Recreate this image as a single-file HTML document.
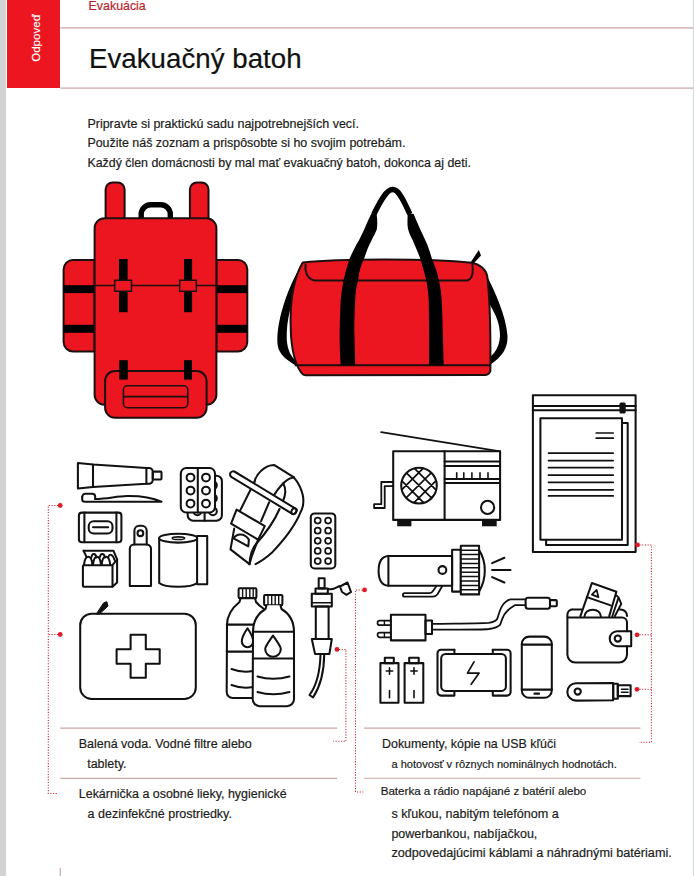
<!DOCTYPE html>
<html><head><meta charset="utf-8">
<style>
html,body{margin:0;padding:0;}
body{width:694px;height:876px;position:relative;overflow:hidden;background:#fff;font-family:"Liberation Sans",sans-serif;color:#1d1d1b;}
.t{position:absolute;white-space:nowrap;line-height:1;-webkit-text-stroke:0.2px currentColor;}
#strip{position:absolute;left:0;top:0;width:6.4px;height:876px;background:#d1d3d4;}
#rstrip{position:absolute;left:693px;top:0;width:1px;height:876px;background:#d6d8d9;}
#redbox{position:absolute;left:7.2px;top:0;width:53.3px;height:87.5px;background:#ec1620;}
#odp{position:absolute;left:36.1px;top:38px;transform:translate(-50%,-50%) rotate(-90deg);color:#fff;font-size:11.6px;-webkit-text-stroke:0.15px #fff;line-height:1;white-space:nowrap;}
svg{position:absolute;left:0;top:0;}
</style></head>
<body>
<div id="strip"></div>
<div id="rstrip"></div>
<div id="redbox"></div>
<div id="odp">Odpoveď</div>
<div class="t" style="left:88.6px;top:-0.1px;font-size:12.4px;color:#b81f2c;">Evakuácia</div>
<div class="t" style="left:88.5px;top:45.2px;font-size:27.3px;color:#111;transform:scaleX(1.015);transform-origin:0 0;">Evakuačný batoh</div>
<div class="t" style="left:87.4px;top:118.2px;font-size:12.5px;">Pripravte si praktickú sadu najpotrebnejších vecí.</div>
<div class="t" style="left:87.4px;top:137.3px;font-size:12.45px;">Použite náš zoznam a prispôsobte si ho svojim potrebám.</div>
<div class="t" style="left:87.4px;top:156.7px;font-size:12.4px;">Každý člen domácnosti by mal mať evakuačný batoh, dokonca aj deti.</div>

<div class="t" style="left:78.7px;top:737.7px;font-size:12.5px;">Balená voda. Vodné filtre alebo</div>
<div class="t" style="left:87.2px;top:757.7px;font-size:12.5px;">tablety.</div>
<div class="t" style="left:78.8px;top:787.9px;font-size:12.45px;">Lekárnička a osobné lieky, hygienické</div>
<div class="t" style="left:87.6px;top:807.7px;font-size:12.5px;">a dezinfekčné prostriedky.</div>

<div class="t" style="left:382.0px;top:738.1px;font-size:12.43px;">Dokumenty, kópie na USB kľúči</div>
<div class="t" style="left:391.5px;top:759.1px;font-size:11.05px;">a hotovosť v rôznych nominálnych hodnotách.</div>
<div class="t" style="left:380.7px;top:784.6px;font-size:11.6px;">Baterka a rádio napájané z batérií alebo</div>
<div class="t" style="left:391.4px;top:807.7px;font-size:12.6px;">s kľukou, nabitým telefónom a</div>
<div class="t" style="left:391.4px;top:827.6px;font-size:12.5px;">powerbankou, nabíjačkou,</div>
<div class="t" style="left:391.4px;top:847.3px;font-size:12.65px;">zodpovedajúcimi káblami a náhradnými batériami.</div>

<svg width="694" height="876" viewBox="0 0 694 876">
<!-- header rules -->
<g stroke="#d9bec1" stroke-width="1.6" fill="none">
<line x1="60.5" y1="27.9" x2="693" y2="27.9"/>
<line x1="60.5" y1="88.1" x2="693" y2="88.1"/>
</g>
<!-- bottom rules -->
<g stroke="#c8a8aa" stroke-width="1.15" fill="none">
<line x1="60.3" y1="728.05" x2="337.1" y2="728.05"/>
<line x1="60.3" y1="778.4" x2="337.1" y2="778.4"/>
<line x1="364" y1="728.05" x2="640.4" y2="728.05"/>
<line x1="364" y1="778.2" x2="640.4" y2="778.2"/>
<line x1="60.3" y1="868" x2="60.3" y2="876"/>
</g>
<!-- BACKPACK -->
<g stroke="#1c0f0f" stroke-width="2" stroke-linejoin="round">
<path fill="#ec1620" d="M94.6,260 H73 A9.4,9.4 0 0 0 63.6,269.4 V342 A9.5,9.5 0 0 0 73.1,351.5 H94.6 Z"/>
<path fill="#ec1620" d="M216.4,260 H238 A9.3,9.3 0 0 1 247.3,269.3 V342 A9.5,9.5 0 0 1 237.8,351.5 H216.4 Z"/>
<rect x="63.6" y="285.2" width="31" height="7.9" fill="#000" stroke="none"/>
<rect x="63.6" y="324.8" width="31" height="8" fill="#000" stroke="none"/>
<rect x="216.4" y="285.2" width="30.9" height="7.9" fill="#000" stroke="none"/>
<rect x="216.4" y="324.8" width="30.9" height="8" fill="#000" stroke="none"/>
<path fill="#ec1620" d="M105.6,222 V189.5 A7,7 0 0 1 112.6,182.5 H117.6 A7,7 0 0 1 124.6,189.5 V222 Z"/>
<path fill="#ec1620" d="M189.9,222 V189.5 A7,7 0 0 1 196.9,182.5 H201.5 A7,7 0 0 1 208.5,189.5 V222 Z"/>
<path fill="none" stroke="#000" stroke-width="5.4" d="M141.2,220 V214 A9.5,9.5 0 0 1 150.7,204.8 H160.8 A9.5,9.5 0 0 1 170.3,214 V220"/>
<rect x="94.6" y="218.2" width="121.8" height="186.6" rx="10" fill="#ec1620"/>
<line x1="94.6" y1="285.6" x2="216.4" y2="285.6" stroke-width="1.5"/>
<rect x="119" y="259" width="8.6" height="53.2" fill="#000" stroke="none"/>
<rect x="184" y="259" width="8.1" height="53.2" fill="#000" stroke="none"/>
<rect x="114.7" y="280.3" width="16.8" height="11" fill="#ec1620" stroke-width="1.5"/>
<rect x="179.7" y="280.3" width="16.6" height="11" fill="#ec1620" stroke-width="1.5"/>
<rect x="105.1" y="371" width="101.5" height="46.8" rx="10" fill="#ec1620"/>
<rect x="119.3" y="360.2" width="8.5" height="19.4" fill="#000" stroke="none"/>
<rect x="184" y="360.2" width="8" height="19.4" fill="#000" stroke="none"/>
<rect x="123.4" y="385.8" width="64.4" height="21.9" rx="4" fill="#ec1620" stroke-width="1.6"/>
<line x1="123.4" y1="396.6" x2="187.8" y2="396.6" stroke-width="1.6"/>
</g>
<!-- DUFFEL -->
<g stroke="#1c0f0f" stroke-width="2" stroke-linejoin="round">
<path fill="#000" stroke="none" d="M302.5,263 C295,275 287,292 281.5,312 C278,325 276.5,338 277.8,346 C279.5,355 287,360 296.5,366 L297,362 C291,357 287.5,350 286.8,340 C286.3,330 287.5,320 290.5,308 C292,298 296,285 302.5,263 Z"/>
<path fill="#000" stroke="none" d="M486,274 C495,292 506,315 507.5,336 C508,348 502,357 490.5,364.5 L490.5,356.5 C496,352 499.5,345 500,336 C500,324 496,315 490,305 Z"/>
<path fill="#ec1620" d="M302.7,262.6 C340,258.5 430,258.5 471.6,262.7 C480,264 486,270 487.2,276 C489.5,295 490.6,330 490.4,364 L490.4,369 A5,5 0 0 1 485.4,375 L306,375.2 A5,5 0 0 1 301.5,373 C297,367 292.5,355 291,336 C290,318 290.5,300 294,286 C296,277 299,269 302.7,262.6 Z"/>
<path fill="none" d="M305.6,263.6 C304.5,270 306.5,279.5 315,280.4 L466,280.6 C472,280 473.5,274 472.4,264"/>
<line x1="294.8" y1="365.3" x2="490.4" y2="365.3"/>
<path fill="#000" stroke="none" d="M470.5,262.5 L478.8,250 L481,255.5 L473.5,263.5 Z"/>
<path fill="none" stroke="#000" stroke-width="5.5" d="M374,214 C379.5,203 386,189.6 392.7,189.6 C399.5,189.6 404.5,203 409.8,214"/>
<path fill="#000" stroke="none" d="M371.7,213 L376.6,214 C377.5,220 377.5,226 376.6,230 C375,234 373,237 371.7,240 C368,247 366,253 364,259 C360.5,266 359,272 358.2,280 C356,288 355.3,294 355.2,300 C354.5,312 354.3,322 354.3,330 L355.2,365.3 L340.7,365.3 C339.8,350 339.5,340 339.7,330 C340,318 340.3,308 340.7,300 C341.5,292 342.5,286 343.6,280 C345.5,272 347.5,265 349.4,259 C352.5,252 355.5,246 359.1,240 C361,236 362.5,233 364,230 C366.5,224 369,218 371.7,213 Z"/>
<path fill="#000" stroke="none" d="M407.8,213 L413.6,214 C417,222 421,231 425.2,240 C428,246 430,252 432,259 C435,266 437.5,273 438.8,280 C440.5,287 441.3,294 441.7,300 C442.3,312 442.6,322 442.7,330 L443.7,365.3 L429.1,365.3 L429.1,330 C429,318 428.9,308 428.7,300 C428.3,293 427.5,286 426.2,280 C424.5,273 422.5,266 420.4,259 C418,252 415,246 412.6,240 C410,235 407.6,230 407.5,225 C407.4,220 407.6,216 407.8,213 Z"/>
</g>

<!-- LEFT ITEMS -->
<g stroke="#111" stroke-width="2.05" fill="none" stroke-linejoin="round" stroke-linecap="round">
<!-- toothpaste -->
<path d="M77.9,463 L93,464.5 L146.4,468 L146.4,483.8 L93,487 L77.9,488.4 Z"/>
<line x1="93" y1="464.5" x2="93" y2="487"/>
<path d="M146.4,468 H149 A3.5,3.5 0 0 1 152.7,471.5 V480.3 A3.5,3.5 0 0 1 149,483.8 H146.4"/>
<rect x="152.8" y="471.6" width="8.7" height="7.9" rx="1"/>
<!-- toothbrush -->
<path d="M82.2,497 A3.3,3.3 0 0 1 85.5,493.7 H92.2 A3,3 0 0 1 95.2,496.7 V499"/>
<path d="M82.2,497 V499.5 Q82.2,501.8 85,501.8 L161.5,501.8 C152,497.5 140,495.8 127,496 C116,496.3 108,498.7 95.2,499"/>
<!-- wipes -->
<rect x="78.9" y="512.6" width="42.5" height="29.6" rx="3"/>
<line x1="84.4" y1="512.6" x2="84.4" y2="542.2"/>
<line x1="116.4" y1="512.6" x2="116.4" y2="542.2"/>
<rect x="88.7" y="521.3" width="23.8" height="12.2" rx="5"/>
<line x1="93" y1="527.2" x2="108.2" y2="527.2"/>
<!-- matches -->
<path d="M83.6,550.8 H113.5 L117.1,559.4 V582.5 L112.5,586.8"/>
<path d="M83.6,550.8 L86.5,556.9"/>
<path d="M91.6,557 C92,553 95.5,553 96.5,557.5 M100,557 C100.5,553 104,553 105,557.5 M108.3,557.5 C109,553 113,554 114.5,560" stroke-width="1.9"/>
<path d="M84,565 C84.5,560 86,556.8 88.3,556.8 C90.6,556.8 92,560 92.4,565 M93,565 C93.5,560 95,556.8 97,556.8 C99,556.8 100.5,560 101,565 M101.7,565 C102,560 103.8,556.8 106,556.8 C108.2,556.8 109.7,560 110.3,565"/>
<path d="M112.5,565.2 L117.1,559.4"/>
<rect x="82.9" y="565.2" width="29.6" height="21.6" rx="1"/>
<!-- spray bottle -->
<path d="M134.4,544.5 V530.8 A5,5 0 0 1 139.4,525.8 H141.7 A5,5 0 0 1 146.7,530.8 V544.5"/>
<circle cx="140.4" cy="533.2" r="2.9"/>
<path d="M129.8,585.9 V548.7 A4.2,4.2 0 0 1 134,544.5 H146.8 A4.2,4.2 0 0 1 151,548.7 V585.9 Z"/>
<!-- paper towel -->
<path d="M197.1,536 H207.2 V584.2 H197.1"/>
<path d="M159.2,538.2 V583 C165,588 191,588 197.1,583 V538.2"/>
<ellipse cx="178.2" cy="538.2" rx="19" ry="4.4" fill="#fff"/>
<ellipse cx="178.4" cy="538.2" rx="6.2" ry="1.3" stroke-width="1.6"/>
<!-- blister back -->
<rect x="187.7" y="475.7" width="34.2" height="45" rx="5.5"/>
<line x1="204.6" y1="512" x2="204.6" y2="520.7"/>
<circle cx="197.4" cy="511.3" r="3.9"/><circle cx="212.9" cy="511.3" r="3.9"/>
<circle cx="212.9" cy="485.3" r="3.9"/><circle cx="212.9" cy="498.3" r="3.9"/>
<!-- blister front -->
<rect x="180.8" y="468" width="34.2" height="44.5" rx="5.5" fill="#fff"/>
<line x1="197.8" y1="468" x2="197.8" y2="512.5"/>
<circle cx="190.5" cy="477.6" r="3.9"/><circle cx="206" cy="477.6" r="3.9"/>
<circle cx="190.5" cy="490.6" r="3.9"/><circle cx="206" cy="490.6" r="3.9"/>
<circle cx="190.5" cy="503.6" r="3.9"/><circle cx="206" cy="503.6" r="3.9"/>
<!-- tourniquet -->
<path d="M254.4,482 C256,474 265,465 274,464.9 L293.6,477.1"/>
<path d="M293.6,477.1 C303,488 306,502 300.9,511.4 C296,524 286,538 271.5,553.1 C266,558 260,562 255.6,564.1"/>
<path d="M293.4,477.4 C289,478 284,482 280.8,486 C278,489 276,492 274.2,494.9"/>
<path d="M283.2,483.3 C285.8,488 285.8,495 282.8,501.5"/>
<path d="M279.5,509 C274,522 265,534 256,544 C252,549 250,555 249.5,564.1"/>
<path d="M254.4,482 L239.7,511.4"/>
<path d="M269.1,502.3 L261.1,521.2"/>
<path d="M234.2,528.6 L230.5,549.4 L249.5,564.1"/>
<path d="M258.1,539.6 L251.5,557 L249.5,564.1"/>
<path d="M233.6,538.4 C236,534 244,532 248.9,539.6 L248.3,546.3 Z"/>
<path d="M236.6,509.6 L264.8,526.1 L258.1,539.6 L231.1,523.7 Z" fill="#fff"/>
<g transform="translate(233.2,474.4) rotate(31.2)">
<path d="M0,-3.1 H71 A2.3,3.1 0 0 1 71,3.1 H0 A3.1,3.1 0 0 1 0,-3.1 Z" fill="#fff"/>
<ellipse cx="71" cy="0" rx="2.3" ry="3.1"/>
</g>
<!-- blister 2 -->
<rect x="310.8" y="513.4" width="24.5" height="55.1" rx="3.8"/>
<g stroke-width="1.7">
<circle cx="317.7" cy="520.6" r="3"/><circle cx="328.1" cy="520.6" r="3"/>
<circle cx="317.7" cy="530.7" r="3"/><circle cx="328.1" cy="530.7" r="3"/>
<circle cx="317.7" cy="540.8" r="3"/><circle cx="328.1" cy="540.8" r="3"/>
<circle cx="317.7" cy="550.9" r="3"/><circle cx="328.1" cy="550.9" r="3"/>
<circle cx="317.7" cy="561.1" r="3"/><circle cx="328.1" cy="561.1" r="3"/>
</g>
<!-- first aid kit -->
<rect x="80.2" y="613.7" width="115.6" height="85.3" rx="11.5"/>
<path d="M130.6,634.7 H145.8 V649.3 H159.7 V663.8 H145.8 V677.8 H130.6 V663.8 H116.6 V649.3 H130.6 Z"/>
<path d="M96.5,613.7 L103.5,603 L106.8,601.6 L108,606 L100,613.5 Z" fill="#111" stroke-width="1"/>
<!-- bottles: back -->
<rect x="238.6" y="588.2" width="17.8" height="9.9" rx="1.2"/>
<g stroke-width="1.4"><line x1="242.6" y1="589" x2="242.6" y2="597.5"/><line x1="246.2" y1="589" x2="246.2" y2="597.5"/><line x1="249.8" y1="589" x2="249.8" y2="597.5"/><line x1="253.2" y1="589" x2="253.2" y2="597.5"/></g>
<path d="M240.5,598.1 L239.5,602 C232,608 227,615 227,625 L226.7,692 A6,6 0 0 0 232.7,698 H253"/>
<path d="M255,598.1 L256,602 C258.5,605 261,607 264,609"/>
<line x1="226.8" y1="624.6" x2="253" y2="624.6"/>
<line x1="226.8" y1="651.6" x2="253" y2="651.6"/>
<path d="M247.5,628.3 C245,632 241.8,637 241.8,641.5 A5.7,5.7 0 0 0 253.2,641.5 C253.2,637 250,632 247.5,628.3 Z"/>
<path d="M231.5,669 Q242,673 253,671"/>
<path d="M231.5,685 Q242,689 253,687"/>
<!-- bottles: front -->
<rect x="264.1" y="594.9" width="18.3" height="10.3" rx="1.2" fill="#fff"/>
<g stroke-width="1.4"><line x1="268" y1="595.7" x2="268" y2="604.5"/><line x1="271.7" y1="595.7" x2="271.7" y2="604.5"/><line x1="275.2" y1="595.7" x2="275.2" y2="604.5"/><line x1="278.7" y1="595.7" x2="278.7" y2="604.5"/></g>
<path d="M266.5,605.2 L265.5,609 C257,614 253,622 253,632 L252.7,699 A7,7 0 0 0 259.7,706.2 H287 A7,7 0 0 0 294,699 L294,632 C294,622 290,614 281.5,609 L280.5,605.2" fill="#fff"/>
<line x1="252.8" y1="631.7" x2="294" y2="631.7"/>
<line x1="252.8" y1="658.4" x2="294" y2="658.4"/>
<path d="M273,635.7 C270,640 265.2,646 265.2,649 A7.8,7.8 0 0 0 280.8,649 C280.8,646 276,640 273,635.7 Z"/>
<path d="M257.5,676.5 Q273,681 289.5,676.5"/>
<path d="M257.5,692 Q273,696.5 289.5,692"/>
<!-- water filter -->
<rect x="318.7" y="578.3" width="5.9" height="10.1"/>
<rect x="315.5" y="588.4" width="12.3" height="5.3"/>
<rect x="311.8" y="593.7" width="20" height="12.7"/>
<line x1="311.8" y1="602.8" x2="331.8" y2="602.8" stroke-width="1.6"/>
<rect x="315.8" y="606.4" width="12.8" height="32.6"/>
<path d="M311.8,639 H331.8 L329.4,653.9 H315 Z"/>
<path d="M320.5,654.5 C320,672 317,685 309.5,695 L313,697.5 C320,687 324,673 324.2,654.5"/>
<path d="M328,589 C333,590.5 336,587 340,586"/>
<path d="M340,586.5 L347.5,582.5 L351,592 L346.5,594.8 L342,592 Z"/>
</g>

<!-- RIGHT ITEMS -->
<g stroke="#111" stroke-width="2.05" fill="none" stroke-linejoin="round" stroke-linecap="round">
<!-- radio -->
<line x1="381.1" y1="432.1" x2="500.1" y2="451.3" stroke-width="1.7"/>
<rect x="393.2" y="451.3" width="106.9" height="68.6"/>
<line x1="444.6" y1="451.3" x2="444.6" y2="519.9"/>
<line x1="444.6" y1="461.4" x2="500.1" y2="461.4"/>
<line x1="444.6" y1="466" x2="500.1" y2="466"/>
<line x1="444.6" y1="478.9" x2="500.1" y2="478.9"/>
<line x1="444.6" y1="482.9" x2="500.1" y2="482.9"/>
<g stroke-width="1.6"><line x1="456.7" y1="472.9" x2="456.7" y2="478.9"/><line x1="463.8" y1="472.9" x2="463.8" y2="478.9"/><line x1="471.9" y1="472.9" x2="471.9" y2="478.9"/><line x1="480" y1="472.9" x2="480" y2="478.9"/><line x1="488" y1="472.9" x2="488" y2="478.9"/></g>
<circle cx="487.6" cy="507.4" r="6.6"/>
<clipPath id="spk"><circle cx="419" cy="485.6" r="17.8"/></clipPath>
<g clip-path="url(#spk)" stroke-width="1.75"><path d="M388.5,480.2 L423.9,515.6 M388.5,490.4 L423.9,455.0 M394.8,473.9 L430.2,509.3 M394.8,496.7 L430.2,461.3 M401.1,467.6 L436.5,503.0 M401.1,503.0 L436.5,467.6 M407.4,461.3 L442.8,496.7 M407.4,509.3 L442.8,473.9 M413.7,455.0 L449.1,490.4 M413.7,515.6 L449.1,480.2"/></g>
<circle cx="419" cy="485.6" r="17.8"/>
<rect x="397.2" y="520.3" width="14.2" height="6" fill="#111" stroke="none"/>
<rect x="482" y="520.3" width="14.7" height="6" fill="#111" stroke="none"/>
<path d="M393.2,482 H381.3 V504.2 H374.1 V508 H384.7 V486.1 H393.2" stroke-width="1.8"/>
<!-- documents -->
<rect x="532.9" y="395.3" width="102.7" height="156.7"/>
<line x1="532.9" y1="406" x2="635.6" y2="406"/>
<line x1="532.9" y1="410.3" x2="635.6" y2="410.3"/>
<rect x="619.5" y="402.4" width="6.2" height="11" rx="1.5" fill="#111" stroke="none"/>
<rect x="546.1" y="423" width="81.6" height="121.9"/>
<rect x="540.4" y="418.3" width="81.6" height="121.5" fill="#fff"/>
<g stroke-width="1.7">
<line x1="596.2" y1="433" x2="613.2" y2="433"/><line x1="596.2" y1="438.2" x2="613.2" y2="438.2"/>
<line x1="548.5" y1="453.1" x2="613.2" y2="453.1"/><line x1="548.5" y1="460.6" x2="613.2" y2="460.6"/>
<line x1="548.5" y1="467.6" x2="613.2" y2="467.6"/><line x1="548.5" y1="475.2" x2="613.2" y2="475.2"/>
<line x1="548.5" y1="482.3" x2="613.2" y2="482.3"/><line x1="548.5" y1="489.8" x2="613.2" y2="489.8"/>
<line x1="548.5" y1="495.9" x2="613.2" y2="495.9"/>
</g>
<!-- flashlight -->
<path d="M388.4,555.9 C381,556.4 378.6,563.5 378.6,570.8 C378.6,578 381,585.3 388.4,585.8"/>
<rect x="388.4" y="555.9" width="63.7" height="29.9"/>
<circle cx="442.4" cy="570" r="3.9"/>
<rect x="452.1" y="549.7" width="8.7" height="41.9"/>
<path d="M479.1,550.1 C483,556 484.8,563 484.8,570.6 C484.8,578 483,585 479.1,591.6"/>
<rect x="460.8" y="545.8" width="18.3" height="48.6" fill="#fff"/>
<g stroke-width="1.5">
<line x1="460.8" y1="550.2" x2="479.1" y2="550.2"/><line x1="460.8" y1="554.6" x2="479.1" y2="554.6"/>
<line x1="460.8" y1="559" x2="479.1" y2="559"/><line x1="460.8" y1="563.4" x2="479.1" y2="563.4"/>
<line x1="460.8" y1="567.8" x2="479.1" y2="567.8"/><line x1="460.8" y1="572.2" x2="479.1" y2="572.2"/>
<line x1="460.8" y1="576.6" x2="479.1" y2="576.6"/><line x1="460.8" y1="581" x2="479.1" y2="581"/>
<line x1="460.8" y1="585.4" x2="479.1" y2="585.4"/><line x1="460.8" y1="589.8" x2="479.1" y2="589.8"/>
</g>
<line x1="492.1" y1="563.1" x2="504.4" y2="557.7"/>
<line x1="492.1" y1="570" x2="510.5" y2="570"/>
<line x1="492.1" y1="577.1" x2="504.4" y2="582.5"/>
<path d="M436.5,586 L432.4,591.8 Q431.4,593.2 429.4,593.2 H404.6 A1.7,1.7 0 0 0 404.6,596.6 H433 Q435.8,596.6 437.5,594.3 L442.3,586" stroke-width="1.8"/>
<!-- plug & cable -->
<path d="M377.5,622.9 A2.3,2.3 0 0 1 379.8,620.6 H390.9 M377.5,622.9 A2.3,2.3 0 0 0 379.8,625.2 H390.9" stroke-width="1.7"/>
<path d="M377.5,635 A2.3,2.3 0 0 1 379.8,632.7 H390.9 M377.5,635 A2.3,2.3 0 0 0 379.8,637.3 H390.9" stroke-width="1.7"/>
<line x1="384.4" y1="620.6" x2="384.4" y2="625.2" stroke-width="1.4"/>
<line x1="384.4" y1="632.7" x2="384.4" y2="637.3" stroke-width="1.4"/>
<rect x="390.9" y="614.8" width="34.6" height="25.6"/>
<rect x="425.5" y="620.5" width="6.5" height="13.4"/>
<path d="M432,623.9 C450,623.5 475,623.5 488.8,622.8 C495,622 497,620 497.5,618.1 C500,610 502,602 510.4,599.4 H525.6" stroke-width="1.8"/>
<path d="M432,629.6 C455,629.5 478,630 488.8,629 C496,628 499,626 500.3,624.6 C503,616 505,611 514.8,605.2 H525.6" stroke-width="1.8"/>
<rect x="525.6" y="597.7" width="24.4" height="11.1" rx="2.5"/>
<rect x="550" y="600.1" width="6.8" height="6.2" rx="1"/>
<!-- batteries -->
<rect x="380.4" y="663.1" width="18.1" height="39.7"/>
<rect x="384.8" y="657.8" width="9" height="5.3"/>
<path d="M386.3,671 H392.7 M389.5,667.8 V674.2 M389.5,690.5 V697.7" stroke-width="1.6"/>
<rect x="404.6" y="663.1" width="18.7" height="39.7"/>
<rect x="409.2" y="657.8" width="9.5" height="5.3"/>
<path d="M410.8,671 H417.2 M414,667.8 V674.2 M414,690.5 V697.7" stroke-width="1.6"/>
<!-- power bank -->
<path d="M454.4,649.7 H441 A3.5,3.5 0 0 0 437.5,653.2 V692.1 A3.5,3.5 0 0 0 441,695.6 H454.4 V690.9"/>
<path d="M454.4,649.7 V654"/>
<path d="M492.8,649.7 H507.1 A3.5,3.5 0 0 1 510.6,653.2 V692.1 A3.5,3.5 0 0 1 507.1,695.6 H492.8 V690.9"/>
<path d="M492.8,649.7 V654"/>
<rect x="441.2" y="654" width="64.7" height="36.9" rx="4.5"/>
<path d="M474,661.8 L467.5,673.1 H479.1 L471.2,684.3" stroke-width="1.7"/>
<!-- phone -->
<rect x="521.8" y="636.6" width="30" height="61.2" rx="7.5"/>
<line x1="521.8" y1="644.6" x2="551.8" y2="644.6"/>
<line x1="521.8" y1="689.6" x2="551.8" y2="689.6"/>
<line x1="534.5" y1="693.7" x2="539" y2="693.7" stroke-width="2.2"/>
<!-- wallet -->
<path d="M567.4,617 V614.5 A5.5,5.5 0 0 1 572.9,609.4 H581.5 M619.7,609.4 H620.5 A6.5,6.5 0 0 1 627,616"/>
<path d="M616.4,595.5 L618.6,597.4 L612.3,616.2 M618.6,597.4 L621.3,603.8 L614.8,616.2" stroke-width="1.9"/>
<path d="M580.4,616.2 L591.9,583 L616.4,591.7 L609.2,616.2"/>
<path d="M586.9,597.1 L610.7,605.4"/>
<path d="M591.9,594.6 L596.6,589.9 L598.4,597.1 Z" stroke-width="1.8"/>
<path d="M584.4,616.6 C585,612 588.5,609.7 592.7,609.7 C596.9,609.7 600.4,612 600.9,616.6" stroke-width="1.9"/>
<path d="M567.4,617.4 V654.5 A8,8 0 0 0 575.4,662.5 H619 A8,8 0 0 0 627,654.5 V646.2 M627,631.2 V622.4 A5,5 0 0 0 622,617.4 H567.4"/>
<path d="M631.2,631.2 H617.2 A7.5,7.5 0 0 0 617.2,646.2 H631.2 Z"/>
<circle cx="617.8" cy="638.5" r="3.1"/>
<!-- usb -->
<path d="M613.2,683 L576,683.3 A8.6,8.6 0 0 0 576,700.6 L613.2,700.2 Z"/>
<circle cx="577.7" cy="691.5" r="3.1"/>
<rect x="613.2" y="683.8" width="4.6" height="15"/>
<rect x="617.8" y="685.3" width="12.8" height="10.8"/>
<line x1="621.5" y1="689.2" x2="628" y2="689.2" stroke-width="1.5"/>
<line x1="621.5" y1="692.3" x2="628" y2="692.3" stroke-width="1.5"/>
</g>

<!-- DOTTED CONNECTORS -->
<g stroke="#c41c2c" stroke-width="1.05" fill="none" stroke-dasharray="1.1 1.6">
<path d="M58,505.5 H48.3 V793.5 H57.3"/>
<path d="M58,634.5 H48.3"/>
<path d="M339,649.4 H345.9 V741.3 H333.4"/>
<path d="M362.5,589.9 H355.5 V792 H363.2"/>
<path d="M639.5,544.9 H651.4 V742.2 H638.9"/>
<path d="M639.5,634.8 H651.4"/>
<path d="M639.5,689.3 H651.4"/>
</g>
<g fill="#e11b26">
<circle cx="60.2" cy="505.5" r="2.4"/>
<circle cx="60.2" cy="634.5" r="2.4"/>
<circle cx="337" cy="649.4" r="2.4"/>
<circle cx="364.6" cy="589.9" r="2.4"/>
<circle cx="637.5" cy="544.9" r="2.4"/>
<circle cx="637" cy="634.8" r="2.4"/>
<circle cx="637" cy="689.3" r="2.4"/>
</g>

<!--ILLUS-->
</svg>
</body></html>
